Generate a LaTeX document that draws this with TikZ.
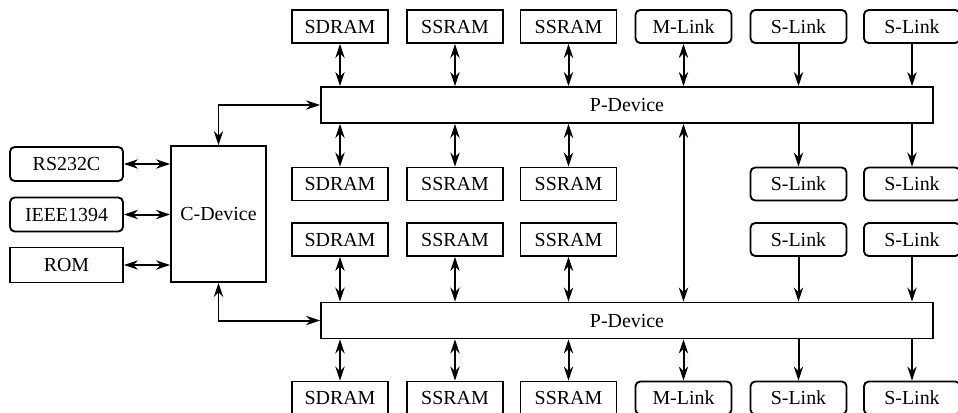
\documentclass[tikz,border=0pt]{standalone}
\usepackage{fontspec}
\setmainfont{Liberation Serif}
\usetikzlibrary{arrows.meta}

\begin{document}
\begin{tikzpicture}[x=0.03cm, y=-0.03cm,
	box/.style  = {draw, line width=1.6pt, inner sep=0pt, minimum width=2.88cm, minimum height=0.99cm, font=\fontsize{17}{19}\selectfont},
	rbox/.style = {box, rounded corners=4pt},
	bus/.style  = {box, minimum width=18.36cm, minimum height=1.08cm},
	link/.style = {line width=1.7pt, >={Stealth[length=12pt, width=8pt]}}]
		\useasboundingbox (0,0) rectangle (958,412);
%
		\node[bus] (ptop) at (627,105) {P-Device};
		\node[bus] (pbot) at (627,320.5) {P-Device};
		\node[box, minimum width=2.85cm, minimum height=4.08cm] (cdev) at (218.5,214) {C-Device};
		%%%%%%%%%%%%%%%%%%% C-Device side
		\node[rbox, minimum width=3.39cm, minimum height=1.02cm] (rs) at (66.5,164) {RS232C};
		\node[rbox, minimum width=3.39cm, minimum height=1.02cm] (ieee) at (66.5,214.5) {IEEE1394};
		\node[box, minimum width=3.39cm, minimum height=1.05cm] (rom) at (66.5,265) {ROM};
		\draw [link] [<->] (rs.east) -- (rs.east -| cdev.west);
		\draw [link] [<->] (ieee.east) -- (ieee.east -| cdev.west);
		\draw [link] [<->] (rom.east) -- (rom.east -| cdev.west);
		\draw [link] [<->] (cdev.north) |- (ptop.west);
		\draw [link] [<->] (cdev.south) |- (pbot.west);
		%%%%%%%%%%%%%%%%%%% Memories
		\foreach \x/\lab [count=\i] in {340/SDRAM, 455/SSRAM, 568.5/SSRAM} {
			\node[box] (t\i) at (\x,26.5) {\lab};
			\node[box] (a\i) at (\x,184) {\lab};
			\node[box] (b\i) at (\x,239.5) {\lab};
			\node[box] (d\i) at (\x,398) {\lab};
			\draw [link] [<->] (t\i.south) -- (t\i.south |- ptop.north);
			\draw [link] [<->] (a\i.north) -- (a\i.north |- ptop.south);
			\draw [link] [<->] (b\i.south) -- (b\i.south |- pbot.north);
			\draw [link] [<->] (d\i.north) -- (d\i.north |- pbot.south);
		}
		%%%%%%%%%%%%%%%%%%% Links
		\node[rbox] (t4) at (683.5,26.5) {M-Link};
		\node[rbox] (d4) at (683.5,398) {M-Link};
		\draw [link] [<->] (t4.south) -- (t4.south |- ptop.north);
		\draw [link] [<->] (d4.north) -- (d4.north |- pbot.south);
		\draw [link] [<->] (t4.south |- ptop.south) -- (t4.south |- pbot.north);
		\foreach \x [count=\i from 5] in {798.5, 912} {
			\node[rbox] (t\i) at (\x,26.5) {S-Link};
			\node[rbox] (a\i) at (\x,184) {S-Link};
			\node[rbox] (b\i) at (\x,239.5) {S-Link};
			\node[rbox] (d\i) at (\x,398) {S-Link};
			\draw [link] [->] (t\i.south) -- (t\i.south |- ptop.north);
			\draw [link] [->] (a\i.north |- ptop.south) -- (a\i.north);
			\draw [link] [->] (b\i.south) -- (b\i.south |- pbot.north);
			\draw [link] [->] (d\i.north |- pbot.south) -- (d\i.north);
		}
\end{tikzpicture}
\end{document}
